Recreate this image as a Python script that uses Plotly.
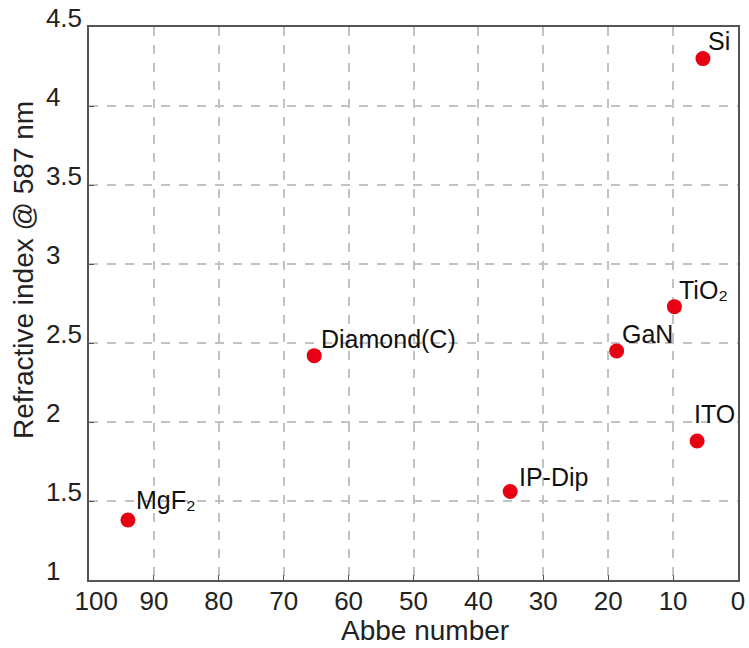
import plotly.graph_objects as go

materials = ["Si", "TiO₂", "GaN", "ITO", "Diamond(C)", "MgF₂", "IP-Dip"]
abbe = [5.4, 9.8, 18.7, 6.3, 65.3, 94.0, 35.1]
n587 = [4.30, 2.73, 2.45, 1.88, 2.42, 1.38, 1.56]

x_ticks = [100, 90, 80, 70, 60, 50, 40, 30, 20, 10, 0]
x_ticktext = ["\u00a0\u00a0100", "90", "80", "70", "60", "50", "40", "30", "20", "10", "0"]
y_ticks = [1, 1.5, 2, 2.5, 3, 3.5, 4, 4.5]
# integer labels padded so that labels appear left-aligned like the reference
y_ticktext = ["1\u00a0\u00a0\u00a0", "1.5", "2\u00a0\u00a0\u00a0", "2.5",
              "3\u00a0\u00a0\u00a0", "3.5", "4\u00a0\u00a0\u00a0", "4.5"]

x_title = "Abbe number"
y_title = "Refractive index @ 587 nm"

# label offsets in pixels (style)
label_shift = {
    "Si": (3, 2), "TiO₂": (3, 1), "GaN": (3, 1), "ITO": (-5, 11),
    "Diamond(C)": (5, 1), "MgF₂": (6, 4), "IP-Dip": (7, -1),
}

FONT = "Liberation Sans, Arial, sans-serif"
TXT = "#222222"

fig = go.Figure()
fig.add_trace(go.Scatter(
    x=abbe, y=n587, mode="markers",
    marker=dict(color="#e60012", size=15, line=dict(width=0)),
    showlegend=False, hoverinfo="text", text=materials,
))

for name, xv, yv in zip(materials, abbe, n587):
    dx, dy = label_shift[name]
    fig.add_annotation(
        x=xv, y=yv, text=name, showarrow=False,
        xanchor="left", yanchor="bottom", xshift=dx, yshift=dy,
        font=dict(family=FONT, size=25, color="#111111"),
    )

axis_common = dict(
    showline=True, mirror=True, linecolor="#555555", linewidth=1.5,
    showgrid=True, gridcolor="#c2c2c2", griddash="dash", gridwidth=1.5,
    ticks="inside", ticklen=5, tickcolor="#555555",
    tickfont=dict(family=FONT, size=26, color=TXT),
    zeroline=False, automargin=False,
)

fig.update_xaxes(range=[100, 0], tickvals=x_ticks, ticktext=x_ticktext,
                 ticklabelstandoff=-3, **axis_common)
fig.update_yaxes(range=[1, 4.5], tickvals=y_ticks, ticktext=y_ticktext,
                 ticklabelshift=-9, ticklabelstandoff=0, **axis_common)

# axis titles placed as in the reference
fig.add_annotation(
    xref="paper", yref="paper", x=(425 - 89) / 649, y=(580 - 630) / 553,
    text=x_title, showarrow=False, xanchor="center", yanchor="middle", borderpad=0,
    font=dict(family=FONT, size=28, color=TXT),
)
fig.add_annotation(
    xref="paper", yref="paper", x=(23 - 89) / 649, y=(580 - 270) / 553,
    text=y_title, showarrow=False, xanchor="center", yanchor="middle", textangle=-90,
    font=dict(family=FONT, size=28, color=TXT),
)

fig.update_layout(
    width=749, height=648,
    margin=dict(l=89, r=11, t=27, b=68),
    paper_bgcolor="white", plot_bgcolor="white",
    font=dict(family=FONT),
)

fig.write_html("out.html")
